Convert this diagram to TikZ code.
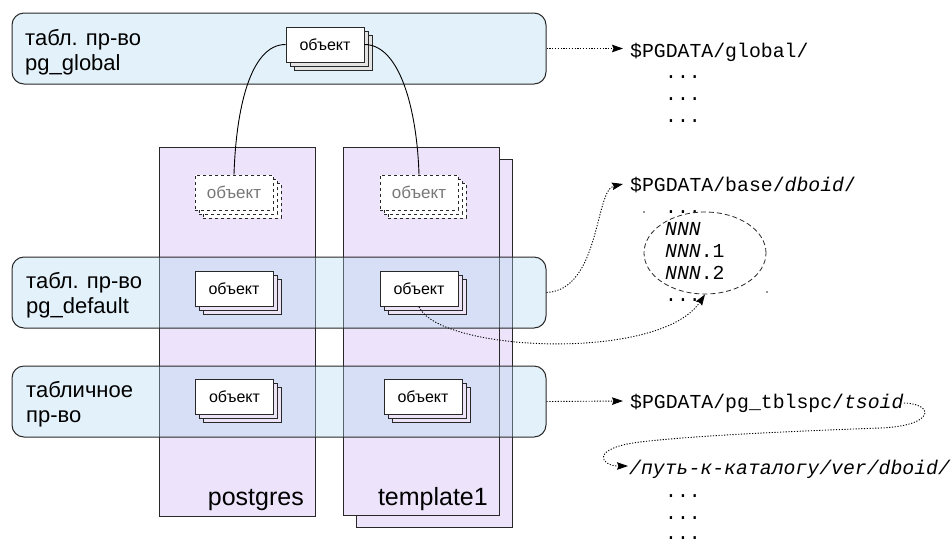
\documentclass[tikz,border=0pt]{standalone}
\usepackage{fontspec}
\setmainfont{Liberation Sans}
\setmonofont{Liberation Mono}
\usetikzlibrary{calc,arrows.meta,shapes.geometric}
\definecolor{bandcol}{RGB}{175,215,240}
\definecolor{lav}{RGB}{237,228,252}
\definecolor{lavback}{RGB}{236,228,246}
\definecolor{ink}{RGB}{40,40,40}
\definecolor{greytxt}{RGB}{120,120,120}
\newcommand\objstack[4]{%
  \node[#3] (#1b2) at ($(#2)+(8,8)$) {};
  \node[#3] (#1b1) at ($(#2)+(4,4)$) {};
  \node[#4] (#1) at (#2) {объект};
}
\tikzset{
  band/.style={draw=ink, line width=1pt, rounded corners=12pt, fill=bandcol, fill opacity=0.35, draw opacity=1, minimum width=534pt, minimum height=71pt, inner sep=0pt},
  dbcol/.style={draw=ink, line width=1pt, fill=lav, inner sep=0pt},
  objfront/.style={draw=ink, line width=0.9pt, fill=white, minimum width=78pt, minimum height=35pt, inner sep=0pt, font=\fontsize{16}{18}\selectfont},
  objback/.style={draw=ink, line width=0.9pt, fill=lavback, minimum width=78pt, minimum height=35pt, inner sep=0pt},
  gback/.style={draw=ink, line width=0.9pt, fill=gray!22, minimum width=78pt, minimum height=35pt, inner sep=0pt},
  dfront/.style={draw=ink, dashed, line width=0.9pt, fill=white, minimum width=78pt, minimum height=35pt, inner sep=0pt, text=greytxt, font=\fontsize{17}{19}\selectfont},
  dback/.style={draw=ink, dashed, line width=0.9pt, fill=white, minimum width=78pt, minimum height=35pt, inner sep=0pt},
  lbl/.style={anchor=base west, inner sep=0pt, font=\fontsize{22}{25}\selectfont},
  dblbl/.style={anchor=base east, inner sep=0pt, font=\fontsize{25}{28}\selectfont},
  mono/.style={anchor=base west, inner sep=0pt, font=\ttfamily\fontsize{19.8}{22}\selectfont},
  dotarrow/.style={line width=0.9pt, dash pattern=on 1.2pt off 1.6pt, -{Stealth[length=11pt,width=7.5pt,inset=1.5pt]}},
  link/.style={line width=0.9pt, draw=black},
}
\begin{document}
\begin{tikzpicture}[x=1pt,y=-1pt]
\useasboundingbox (0,0) rectangle (951,542);
% database columns
\node[dbcol, minimum width=156pt, minimum height=369pt] (pgcol) at (237,331.5) {};
\node[dbcol, minimum width=156pt, minimum height=368pt] (t1back) at (434,343) {};
\node[dbcol, minimum width=156pt, minimum height=368pt] (t1col) at (421,331) {};
\node[dblbl] (pglbl) at (304,505) {postgres};
\node[dblbl] (t1lbl) at (488,505) {template1};
% bands
\node[band] (gband) at (279,48.5) {};
\node[band] (dband) at (279,292.5) {};
\node[band] (tband) at (279,401.5) {};
% band labels
\node[lbl] (g1) at (25,45) {табл. пр-во};
\node[lbl] (g2) at (25,70) {pg\_global};
\node[lbl] (d1) at (26,288) {табл. пр-во};
\node[lbl] (d2) at (26,313) {pg\_default};
\node[lbl] (t1) at (26,397) {табличное};
\node[lbl] (t2) at (26,422) {пр-во};
% objects
\objstack{gobj}{325,44.5}{gback}{objfront}
\objstack{dpg}{234,192.5}{dback}{dfront}
\objstack{dt1}{419,192.5}{dback}{dfront}
\objstack{opg}{234,289}{objback}{objfront}
\objstack{ot1}{419,289}{objback}{objfront}
\objstack{spg}{234.5,396.5}{objback}{objfront}
\objstack{st1}{423,396.5}{objback}{objfront}
% links from global object
\draw[link] (gobj.west) .. controls (250,44.5) and (236,110) .. (dpg.north);
\draw[link] (gobj.east) .. controls (400,44.5) and (417,110) .. (dt1.north);
% right-hand texts
\node[mono] (glob) at (630,57) {\$PGDATA/global/};
\node[mono] (gd1) at (665,78) {...};
\node[mono] (gd2) at (665,100) {...};
\node[mono] (gd3) at (665,122) {...};
\node[mono] (base) at (630,191) {\$PGDATA/base/\textit{dboid}/};
\node[mono] (bd1) at (665,213) {...};
\node[mono] (n0) at (665,235) {\textit{NNN}};
\node[mono] (n1) at (665,257) {\textit{NNN}.1};
\node[mono] (n2) at (665,279) {\textit{NNN}.2};
\node[mono] (bd2) at (665,301) {...};
\node[draw=ink, dashed, line width=0.8pt, dash pattern=on 5pt off 3pt, ellipse, minimum width=122pt, minimum height=82pt, inner sep=0pt] (ell) at (705,253) {};
\fill[ink] (644,212) circle (0.8pt);
\fill[ink] (767,292) circle (0.8pt);
\node[mono] (tsp) at (630,408) {\$PGDATA/pg\_tblspc/\textit{tsoid}};
\node[mono] (path) at (629,474) {\textit{/путь-к-каталогу/ver/dboid/}};
\node[mono] (td1) at (665,497) {...};
\node[mono] (td2) at (665,519) {...};
\node[mono] (td3) at (665,539) {...};
% dotted arrows
\coordinate (gtip) at (623,48.5);
\coordinate (btip) at (623,184);
\coordinate (ttip) at (623,401);
\coordinate (tstart) at (904,403);
\coordinate (ptip) at (628,466);
\draw[dotarrow] (gband.east) -- (gtip);
\draw[dotarrow] (dband.east) .. controls (600,290) and (595,190) .. (btip);
\draw[dotarrow] (ot1.south) .. controls (440,352) and (660,362) .. (ell.south);
\draw[dotarrow] (tband.east) -- (ttip);
\draw[dotarrow] (tstart) .. controls (935,404) and (935,426) .. (880,428)
  .. controls (800,431) and (700,435) .. (640,442)
  .. controls (590,448) and (600,466) .. (ptip);
\end{tikzpicture}
\end{document}
